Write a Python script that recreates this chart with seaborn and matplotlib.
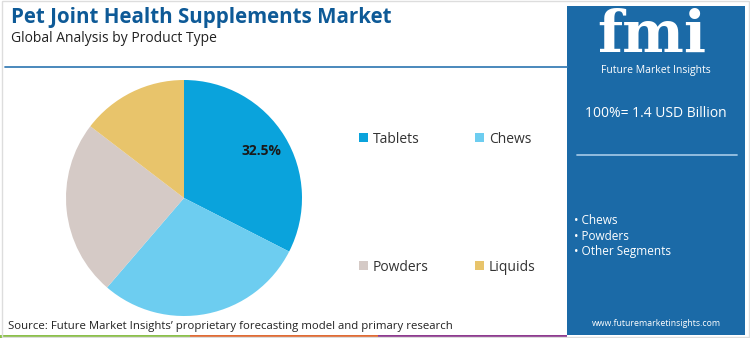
import matplotlib
matplotlib.use("Agg")
import matplotlib.pyplot as plt
import seaborn as sns
from matplotlib.patches import Rectangle

sns.set_theme(style="white")
plt.rcParams['font.family'] = ['Open Sans', 'DejaVu Sans']

# ---- data ----
categories = ["Tablets", "Chews", "Powders", "Liquids"]
shares = [32.5, 28.8, 24.1, 14.6]
colors_hex = ["#0AA3DC", "#6DCDF0", "#D5CAC6", "#E8C46B"]
title = "Pet Joint Health Supplements Market"
subtitle = "Global Analysis by Product Type"
total_label = "100%= 1.4 USD Billion"
side_items = ["Chews", "Powders", "Other Segments"]
source = "Source: Future Market Insights\u2019 proprietary forecasting model and primary research"

W, H = 750, 338
fig = plt.figure(figsize=(7.5, 3.38), dpi=100)
fig.patch.set_facecolor("white")

def fx(px): return px / W
def fy(py): return 1 - py / H

palette = sns.color_palette(colors_hex)

# ---- pie ----
cx, cy, r = 184, 198, 118
ax = fig.add_axes([fx(cx - r), fy(cy + r), 2 * r / W, 2 * r / H])
wedges, texts, autotexts = ax.pie(
    shares, colors=palette, startangle=90, counterclock=False,
    autopct=lambda p: f"{p:.1f}%" if p > 30 else "", pctdistance=0.77,
    wedgeprops=dict(linewidth=0), textprops=dict(fontsize=10, fontweight="bold", color="#1a1a1a"))
ax.set_xlim(-1, 1)
ax.set_ylim(-1, 1)
ax.set_aspect("auto")
ax.axis("off")

# ---- legend (manual grid) ----
leg_pos = [(364, 138), (480, 138), (364, 266), (480, 266)]
for (lx, ly), lab, col in zip(leg_pos, categories, palette):
    fig.patches.append(Rectangle((fx(lx - 5), fy(ly + 4)), 9 / W, 9 / H,
                                 transform=fig.transFigure, color=col, lw=0))
    fig.text(fx(lx + 9), fy(ly + 1.5), lab, fontsize=10, color="#333333", va="center", ha="left")

# ---- title ----
fig.text(fx(11), fy(18), title, fontsize=14.8, fontweight="bold", color="#0E5A97", va="center", ha="left")
fig.text(fx(11), fy(38), subtitle, fontsize=10, color="#222222", va="center", ha="left")
fig.add_artist(plt.Line2D([fx(5), fx(567)], [fy(67), fy(67)], color="#3C7FB6", lw=1.3))

# ---- source ----
fig.text(fx(8), fy(327), source, fontsize=8.2, color="#222222", va="center", ha="left")

# ---- bottom strip ----
for x0, x1, c in [(0, 190, "#8CC04B"), (190, 378, "#E06B35"), (378, 567, "#8E3B8F")]:
    fig.patches.append(Rectangle((fx(x0), 0), (x1 - x0) / W, 3.5 / H,
                                 transform=fig.transFigure, color=c, lw=0))

# ---- right panel ----
fig.patches.append(Rectangle((fx(567), fy(335)), (745 - 567) / W, (335 - 6) / H,
                             transform=fig.transFigure, color="#1B6AA7", lw=0))
fig.text(fx(652), fy(36), "fmi", fontsize=42, fontweight="bold", color="white",
         family=["DejaVu Serif"], va="center", ha="center")
fig.text(fx(656), fy(70), "Future Market Insights", fontsize=7.5, color="white", va="center", ha="center")
fig.text(fx(656), fy(114), total_label, fontsize=10, color="white", va="center", ha="center")
fig.add_artist(plt.Line2D([fx(577), fx(737)], [fy(155), fy(155)], color="#9CC3E3", lw=1.3))
for i, s in enumerate(side_items):
    fig.text(fx(574), fy(220 + 16 * i), "\u2022 " + s, fontsize=8.5, color="white", va="center", ha="left")
fig.text(fx(656), fy(324), "www.futuremarketinsights.com", fontsize=6.3, color="white", va="center", ha="center")

# light border
fig.patches.append(Rectangle((0.002, 0.002), 0.996, 0.996, transform=fig.transFigure,
                             fill=False, edgecolor="#DDDDDD", lw=1))

fig.savefig("out.png", dpi=100)
